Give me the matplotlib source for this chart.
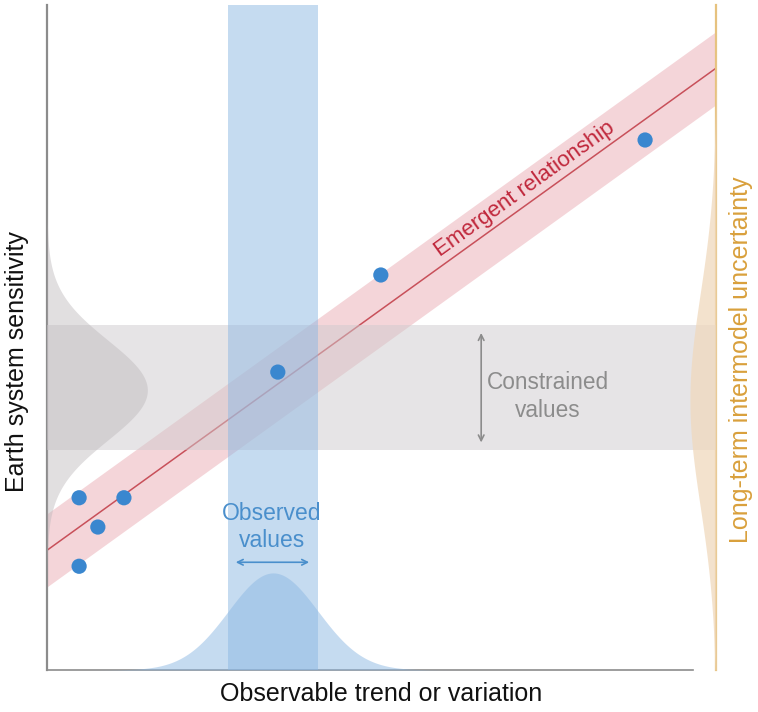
import numpy as np
import matplotlib.pyplot as plt

plt.rcParams['font.family'] = ['Liberation Sans', 'DejaVu Sans']

# --- Data (axes units 0-100) ---
model_x = [4.8, 11.5, 7.6, 4.8, 34.5, 49.9, 89.4]
model_y = [25.9, 25.9, 21.5, 15.6, 44.8, 59.4, 79.7]

fit_x = [0, 100]
fit_y = [18.0, 90.5]
fit_halfwidth = 5.5

observed_range = [27.1, 40.5]       # blue vertical band
constrained_range = [33.1, 51.9]    # grey horizontal band

# bell shapes: mean, sd, peak height
obs_pdf = (33.8, 6.7, 14.6)
con_pdf = (42.1, 7.5, 15.0)
model_pdf = (40.6, 16.0, 3.9)

# --- Figure ---
W, H = 758, 712
fig = plt.figure(figsize=(W / 100, H / 100), dpi=100)
ax = fig.add_axes([47 / W, 1 - 670 / H, (716 - 47) / W, 665 / H])
ax.set_xlim(0, 100)
ax.set_ylim(0, 100)
ax.set_xticks([])
ax.set_yticks([])
ax.spines['top'].set_visible(False)
ax.spines['left'].set_color('#8c8c8c')
ax.spines['left'].set_linewidth(1.6)
ax.spines['bottom'].set_color('#8c8c8c')
ax.spines['bottom'].set_linewidth(1.2)
ax.spines['bottom'].set_bounds(0, 96.5)
ax.spines['right'].set_color('#e6c27e')
ax.spines['right'].set_linewidth(1.6)

grid = np.linspace(0, 100, 400)

# emergent relationship band + line
fx = np.array(fit_x)
fy = np.array(fit_y)
ax.fill_between(fx, fy - fit_halfwidth, fy + fit_halfwidth, color='#e8a3ab', alpha=0.45, lw=0, zorder=1)
ax.plot(fx, fy, color='#c8505a', lw=1.1, zorder=2)

# constrained band and left-hand distribution
ax.axhspan(*constrained_range, color='#cfcbce', alpha=0.5, lw=0, zorder=3)
m, s, a = con_pdf
ax.fill_betweenx(grid, 0, a * np.exp(-0.5 * ((grid - m) / s) ** 2), color='#bdb8bb', alpha=0.45, lw=0, zorder=3)

# observed band and bottom distribution
ax.axvspan(*observed_range, color='#8db8e3', alpha=0.5, lw=0, zorder=4)
m, s, a = obs_pdf
ax.fill_between(grid, 0, a * np.exp(-0.5 * ((grid - m) / s) ** 2), color='#8db8e3', alpha=0.5, lw=0, zorder=4)

# intermodel distribution on the right
m, s, a = model_pdf
ax.fill_betweenx(grid, 100 - a * np.exp(-0.5 * ((grid - m) / s) ** 2), 100, color='#f0d9bd', alpha=0.75, lw=0, zorder=4)

# model points
ax.scatter(model_x, model_y, s=120, color='#3a87cf', edgecolors='none', zorder=6)

# --- Annotations ---
p0 = ax.transData.transform((fx[0], fy[0]))
p1 = ax.transData.transform((fx[1], fy[1]))
angle = np.degrees(np.arctan2(p1[1] - p0[1], p1[0] - p0[0]))
tx = 72.4
ax.text(tx, np.interp(tx, fx, fy) + 0.5, 'Emergent relationship', color='#c0283c', fontsize=16,
        rotation=angle, rotation_mode='anchor', ha='center', va='bottom', zorder=7)

ax.annotate('', xy=(64.9, 51.1), xytext=(64.9, 33.8),
            arrowprops=dict(arrowstyle='<->', color='#8c8c8c', lw=1.2), zorder=7)
ax.text(74.9, 41.1, 'Constrained\nvalues', color='#8c8c8c', fontsize=16.3, ha='center', va='center',
        linespacing=1.25, zorder=7)

ax.annotate('', xy=(27.8, 16.2), xytext=(39.6, 16.2),
            arrowprops=dict(arrowstyle='<->', color='#4a8fcc', lw=1.2), zorder=7)
ax.text(33.6, 21.5, 'Observed\nvalues', color='#4a8fcc', fontsize=16.5, ha='center', va='center',
        linespacing=1.25, zorder=7)

fig.text(17 / W, 1 - 362 / H, 'Earth system sensitivity', rotation=90, fontsize=18,
         ha='center', va='center', color='#111111')
fig.text(381 / W, 1 - 694 / H, 'Observable trend or variation', fontsize=18,
         ha='center', va='center', color='#111111')
fig.text(741 / W, 1 - 360 / H, 'Long-term intermodel uncertainty', rotation=90, fontsize=18,
         ha='center', va='center', color='#d9a03c')

fig.savefig('out.png', dpi=100)
